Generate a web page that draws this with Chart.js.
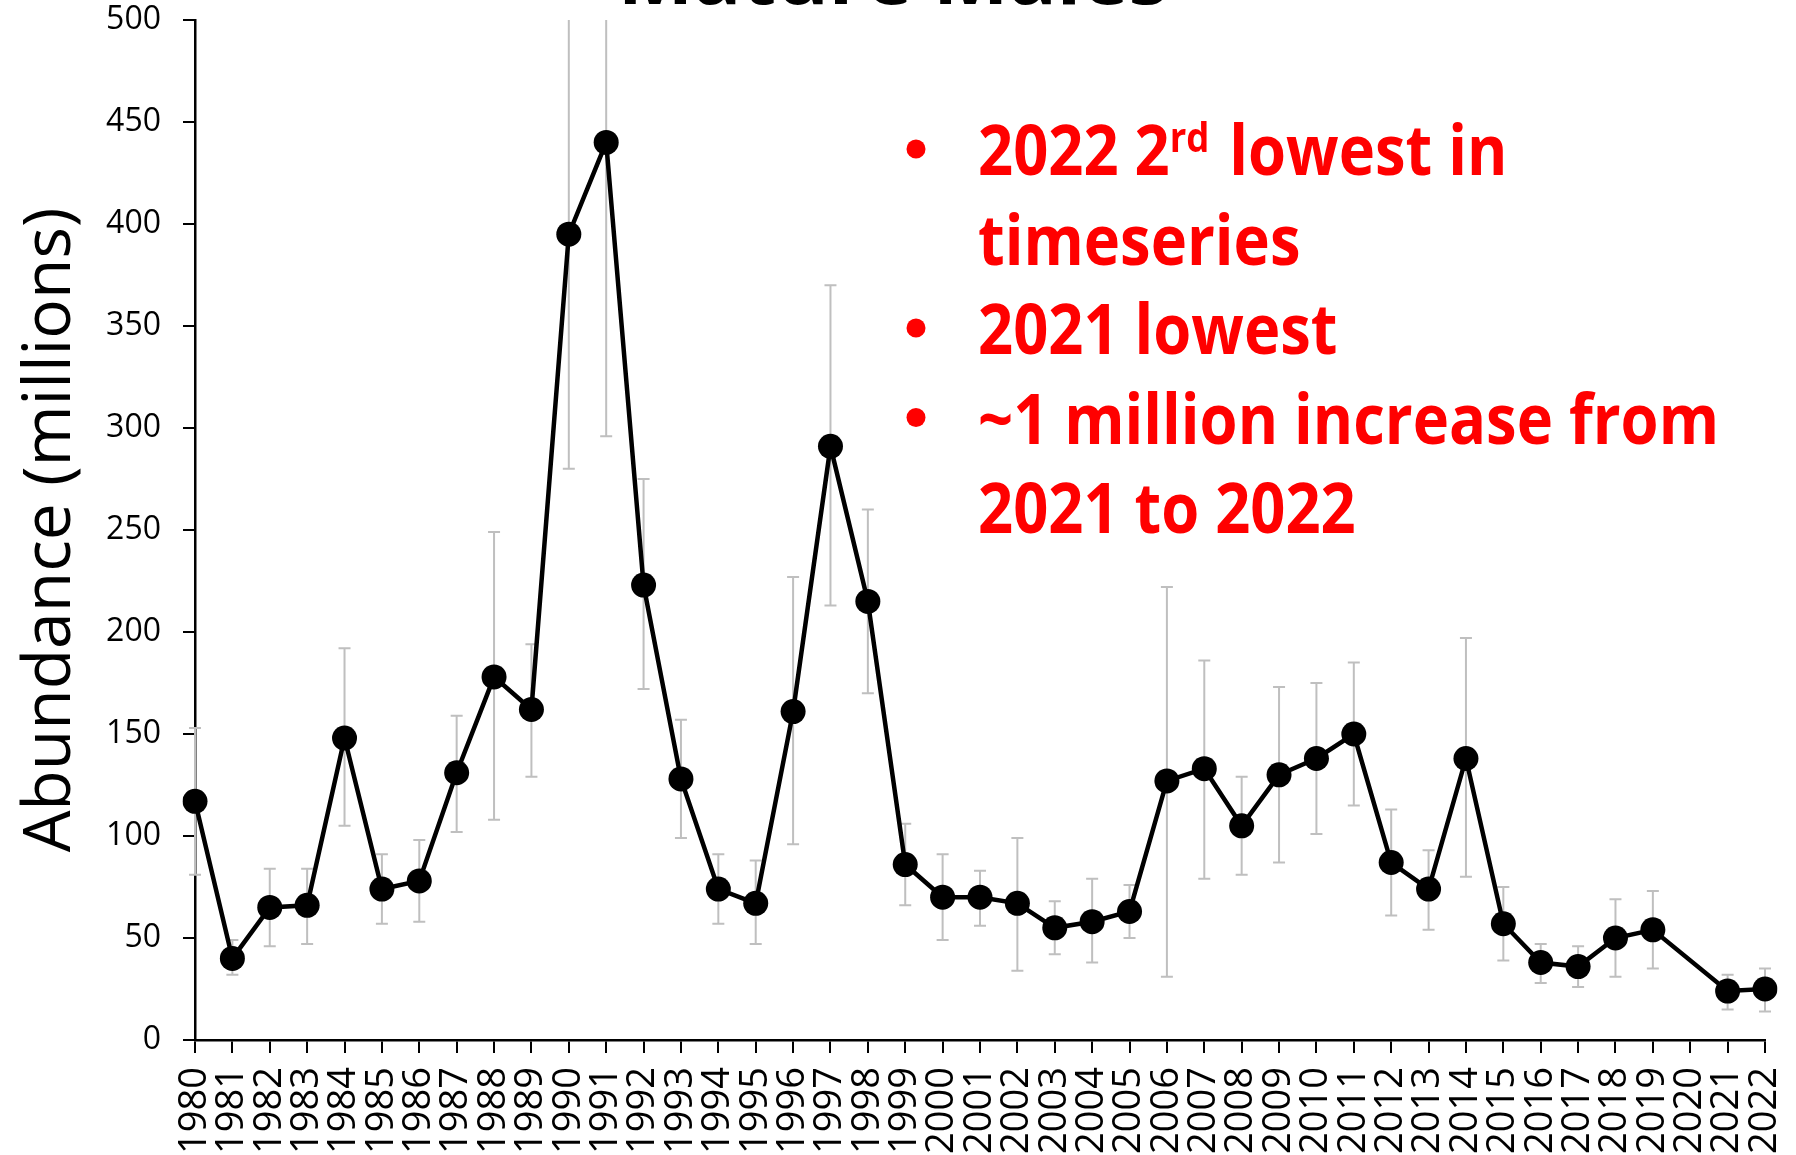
<!DOCTYPE html>
<html>
<head>
<meta charset="utf-8">
<script src="https://cdn.jsdelivr.net/npm/chart.js@4.4.1/dist/chart.umd.min.js"></script>
<style>
  html, body { margin: 0; padding: 0; background: #fff; }
  #wrap { width: 1796px; height: 1155px; position: relative; }
</style>
</head>
<body>
<div id="wrap"><canvas id="abundance_chart"></canvas></div>
<script>
// survey years (2020 had no survey)
const years = ['1980', '1981', '1982', '1983', '1984', '1985', '1986', '1987', '1988', '1989',
               '1990', '1991', '1992', '1993', '1994', '1995', '1996', '1997', '1998', '1999',
               '2000', '2001', '2002', '2003', '2004', '2005', '2006', '2007', '2008', '2009',
               '2010', '2011', '2012', '2013', '2014', '2015', '2016', '2017', '2018', '2019',
               '2020', '2021', '2022'];

// abundance, millions
const abundance = [117, 40, 65, 66, 148, 74, 78, 131, 178, 162,
                   395, 440, 223, 128, 74, 67, 161, 291, 215, 86,
                   70, 70, 67, 55, 58, 63, 127, 133, 105, 130,
                   138, 150, 87, 74, 138, 57, 38, 36, 50, 54,
                   null, 24, 25];

// error bar ends
const errHigh = [153, 49, 84, 84, 192, 91, 98, 159, 249, 194,
                 520, 590, 275, 157, 91, 88, 227, 370, 260, 106,
                 91, 83, 99, 68, 79, 76, 222, 186, 129, 173,
                 175, 185, 113, 93, 197, 75, 47, 46, 69, 73,
                 null, 32, 35];
const errLow = [81, 32, 46, 47, 105, 57, 58, 102, 108, 129,
                280, 296, 172, 99, 57, 47, 96, 213, 170, 66,
                49, 56, 34, 42, 38, 50, 31, 79, 81, 87,
                101, 115, 61, 54, 80, 39, 28, 26, 31, 35,
                null, 15, 14];

const yTicks = [0, 50, 100, 150, 200, 250, 300, 350, 400, 450, 500];

const chartTitle = 'Mature Males';
const notes = [
    {bullet: true, parts: [['2022 2', false], ['rd', true], [' lowest in', false]]},
    {bullet: false, parts: [['timeseries', false]]},
    {bullet: true, parts: [['2021 lowest', false]]},
    {bullet: true, parts: [['~1 million increase from', false]]},
    {bullet: false, parts: [['2021 to 2022', false]]}
];

const errorBars = {
    id: 'errorBars',
    beforeDatasetsDraw(chart) {
        const {ctx, chartArea, scales: {x, y}} = chart;
        ctx.save();
        ctx.beginPath();
        ctx.rect(chartArea.left - 20, chartArea.top, chartArea.width + 40, chartArea.height);
        ctx.clip();
        ctx.strokeStyle = '#bfbfbf';
        ctx.lineWidth = 2;
        abundance.forEach((v, i) => {
            if (v === null) return;
            const px = x.getPixelForValue(i);
            const top = y.getPixelForValue(errHigh[i]);
            const bot = y.getPixelForValue(errLow[i]);
            ctx.beginPath();
            ctx.moveTo(px, top);
            ctx.lineTo(px, bot);
            ctx.moveTo(px - 6, top);
            ctx.lineTo(px + 6, top);
            ctx.moveTo(px - 6, bot);
            ctx.lineTo(px + 6, bot);
            ctx.stroke();
        });
        ctx.restore();
    }
};

const textNotes = {
    id: 'textNotes',
    afterDraw(chart) {
        const ctx = chart.ctx;
        ctx.save();

        // title, mostly above the picture
        ctx.fillStyle = '#000';
        ctx.font = 'bold 80px "Open Sans"';
        ctx.textAlign = 'center';
        ctx.textBaseline = 'alphabetic';
        ctx.fillText(chartTitle, 893, 4);

        // red bullet list
        ctx.fillStyle = '#ff0000';
        ctx.textAlign = 'left';
        const big = 'bold 69px "Open Sans"';
        const small = 'bold 41px "Open Sans"';
        ctx.font = big;
        const squeeze = 741 / ctx.measureText('~1 million increase from').width;
        const x0 = 978;
        notes.forEach((line, k) => {
            const base = 175 + k * 89.5;
            if (line.bullet) {
                ctx.beginPath();
                ctx.arc(916, base - 26, 9.5, 0, Math.PI * 2);
                ctx.fill();
            }
            let cx = x0;
            line.parts.forEach(([txt, sup]) => {
                ctx.font = sup ? small : big;
                const w = ctx.measureText(txt).width * squeeze;
                ctx.save();
                ctx.translate(cx, sup ? base - 23 : base);
                ctx.scale(squeeze, 1);
                ctx.fillText(txt, 0, 0);
                ctx.restore();
                cx += w + (sup ? 4 : 0);
            });
        });
        ctx.restore();
    }
};

const ctx_abundance = document.getElementById('abundance_chart').getContext('2d');

new Chart(ctx_abundance, {
    type: 'line',
    data: {
        labels: years,
        datasets: [{
            label: 'Abundance',
            data: abundance,
            borderColor: '#000',
            borderWidth: 4.5,
            backgroundColor: '#000',
            pointBackgroundColor: '#000',
            pointBorderWidth: 0,
            pointRadius: 12.5,
            pointHoverRadius: 12.5,
            spanGaps: true,
            tension: 0
        }]
    },
    options: {
        responsive: true,
        maintainAspectRatio: false,
        animation: false,
        layout: {
            padding: {top: 20, right: 31, left: 0, bottom: 0}
        },
        scales: {
            x: {
                offset: false,
                grid: {
                    display: true,
                    drawOnChartArea: false,
                    drawTicks: true,
                    tickLength: 13,
                    color: '#000',
                    lineWidth: 2
                },
                border: {color: '#000', width: 2.5},
                ticks: {
                    autoSkip: false,
                    minRotation: 90,
                    maxRotation: 90,
                    padding: 14,
                    color: '#000',
                    font: {family: '"Open Sans"', size: 38}
                },
                afterFit: (scale) => {
                    scale.height = 115;
                    scale.paddingLeft = 0;
                    scale.paddingRight = 0;
                }
            },
            y: {
                min: 0,
                max: 500,
                afterBuildTicks: (scale) => { scale.ticks = yTicks.map(v => ({value: v})); },
                grid: {
                    display: true,
                    drawOnChartArea: false,
                    drawTicks: true,
                    tickLength: 12,
                    color: '#000',
                    lineWidth: 2
                },
                border: {color: '#000', width: 2.5},
                ticks: {
                    padding: 22,
                    color: '#000',
                    font: {family: '"Open Sans"', size: 32}
                },
                title: {
                    display: true,
                    text: 'Abundance (millions)',
                    color: '#000',
                    padding: {top: 12, bottom: 0},
                    font: {family: '"Open Sans"', size: 66, lineHeight: 1.2}
                },
                afterFit: (scale) => {
                    scale.width = 195;
                    scale.paddingTop = 0;
                    scale.paddingBottom = 0;
                }
            }
        },
        plugins: {
            legend: {display: false},
            title: {display: false},
            tooltip: {enabled: false}
        }
    },
    plugins: [errorBars, textNotes]
});
</script>
</body>
</html>
